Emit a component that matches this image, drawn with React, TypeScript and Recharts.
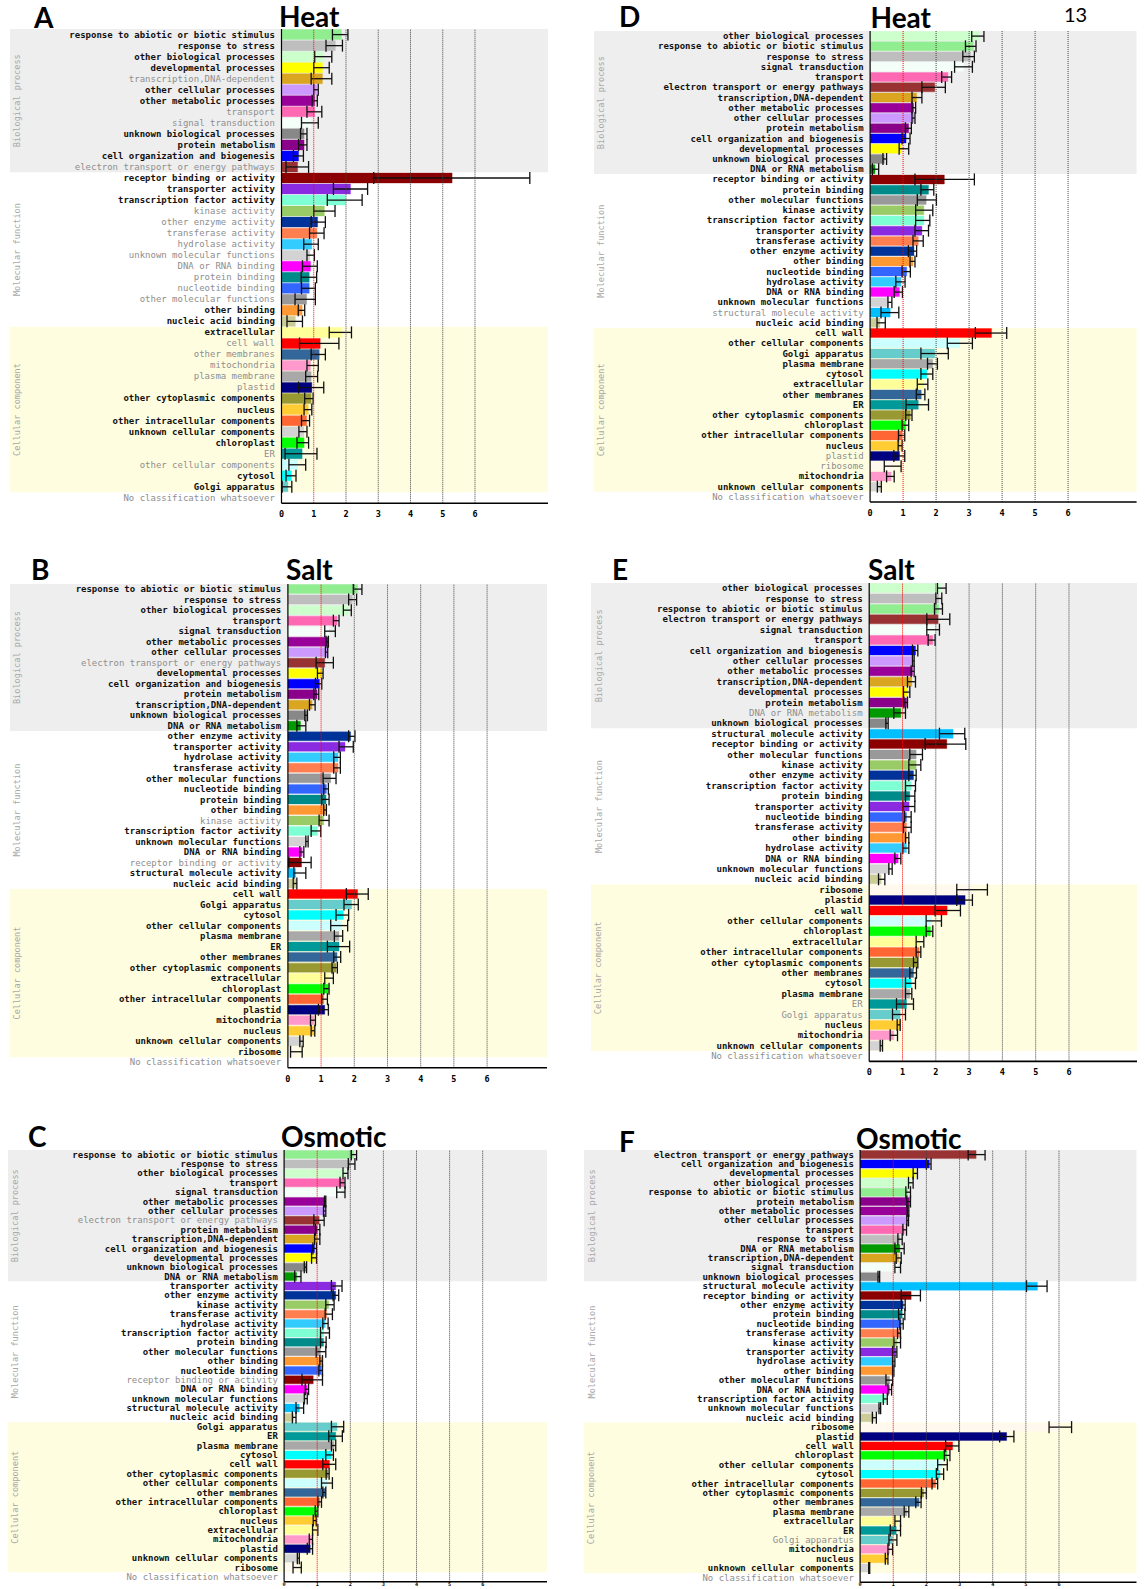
import React from 'react';
import { BarChart, Bar, XAxis, YAxis, Cell, ErrorBar, ReferenceArea, ReferenceLine } from 'recharts';

const NOCLASS = 'No classification whatsoever';
const SECTION_NAMES = ['Biological process', 'Molecular function', 'Cellular component'];
const X_TICKS = [0, 1, 2, 3, 4, 5, 6];

// ---------- Panel A : Heat ----------
const catsA = ['response to abiotic or biotic stimulus', 'response to stress', 'other biological processes', 'developmental processes', 'transcription,DNA-dependent', 'other cellular processes', 'other metabolic processes', 'transport', 'signal transduction', 'unknown biological processes', 'protein metabolism', 'cell organization and biogenesis', 'electron transport or energy pathways',
  'receptor binding or activity', 'transporter activity', 'transcription factor activity', 'kinase activity', 'other enzyme activity', 'transferase activity', 'hydrolase activity', 'unknown molecular functions', 'DNA or RNA binding', 'protein binding', 'nucleotide binding', 'other molecular functions', 'other binding', 'nucleic acid binding',
  'extracellular', 'cell wall', 'other membranes', 'mitochondria', 'plasma membrane', 'plastid', 'other cytoplasmic components', 'nucleus', 'other intracellular components', 'unknown cellular components', 'chloroplast', 'ER', 'other cellular components', 'cytosol', 'Golgi apparatus'];
const valsA = [1.86, 1.67, 1.31, 1.27, 1.27, 1.09, 1.03, 1.03, 0.92, 0.70, 0.70, 0.53, 0.50,
  5.29, 2.14, 1.98, 1.33, 1.12, 1.10, 0.94, 0.88, 0.90, 0.86, 0.86, 0.78, 0.64, 0.43,
  1.88, 1.20, 1.17, 0.90, 0.92, 0.94, 0.92, 0.83, 0.78, 0.70, 0.70, 0.64, 0.50, 0.31, 0.20];
const loA = [1.58, 1.38, 1.03, 1.00, 0.92, 1.00, 0.95, 0.79, 0.62, 0.59, 0.53, 0.37, 0.14,
  2.86, 1.61, 1.42, 1.00, 0.92, 0.87, 0.69, 0.79, 0.65, 0.61, 0.62, 0.42, 0.52, 0.17,
  1.48, 0.56, 0.92, 0.79, 0.75, 0.53, 0.72, 0.70, 0.62, 0.54, 0.48, 0.11, 0.23, 0.14, 0.02];
const hiA = [2.06, 1.89, 1.56, 1.48, 1.56, 1.14, 1.11, 1.25, 1.14, 0.79, 0.79, 0.68, 0.84,
  7.70, 2.67, 2.50, 1.66, 1.36, 1.32, 1.14, 1.02, 1.11, 1.09, 1.05, 1.05, 0.72, 0.65,
  2.17, 1.78, 1.36, 1.14, 1.12, 1.31, 0.98, 0.94, 0.87, 0.79, 0.84, 1.10, 0.75, 0.45, 0.32];
const grayA = ['transcription,DNA-dependent', 'transport', 'signal transduction', 'electron transport or energy pathways', 'kinase activity', 'other enzyme activity', 'transferase activity', 'hydrolase activity', 'unknown molecular functions', 'DNA or RNA binding', 'protein binding', 'nucleotide binding', 'other molecular functions', 'cell wall', 'other membranes', 'mitochondria', 'plasma membrane', 'plastid', 'ER', 'other cellular components'];
const secA = [13, 14, 15];

// ---------- Panel D : Heat ----------
const catsD = ['other biological processes', 'response to abiotic or biotic stimulus', 'response to stress', 'signal transduction', 'transport', 'electron transport or energy pathways', 'transcription,DNA-dependent', 'other metabolic processes', 'other cellular processes', 'protein metabolism', 'cell organization and biogenesis', 'developmental processes', 'unknown biological processes', 'DNA or RNA metabolism',
  'receptor binding or activity', 'protein binding', 'other molecular functions', 'kinase activity', 'transcription factor activity', 'transporter activity', 'transferase activity', 'other enzyme activity', 'other binding', 'nucleotide binding', 'hydrolase activity', 'DNA or RNA binding', 'unknown molecular functions', 'structural molecule activity', 'nucleic acid binding',
  'cell wall', 'other cellular components', 'Golgi apparatus', 'plasma membrane', 'cytosol', 'extracellular', 'other membranes', 'ER', 'other cytoplasmic components', 'chloroplast', 'other intracellular components', 'nucleus', 'plastid', 'ribosome', 'mitochondria', 'unknown cellular components'];
const valsD = [3.30, 3.13, 3.05, 2.83, 2.36, 1.96, 1.41, 1.32, 1.33, 1.17, 1.09, 0.95, 0.43, 0.15,
  2.25, 1.77, 1.70, 1.63, 1.63, 1.57, 1.46, 1.33, 1.30, 1.11, 0.94, 0.89, 0.57, 0.61, 0.30,
  3.68, 2.72, 1.96, 1.90, 1.72, 1.63, 1.55, 1.46, 1.22, 1.08, 0.97, 0.92, 0.89, 0.68, 0.64, 0.30];
const loD = [3.08, 2.89, 2.81, 2.56, 2.17, 1.57, 1.27, 1.27, 1.27, 1.07, 0.97, 0.88, 0.39, 0.07,
  1.36, 1.54, 1.43, 1.38, 1.38, 1.36, 1.30, 1.16, 1.21, 0.97, 0.78, 0.73, 0.54, 0.33, 0.21,
  3.19, 2.34, 1.54, 1.74, 1.54, 1.43, 1.40, 1.09, 1.08, 0.97, 0.86, 0.85, 0.72, 0.43, 0.50, 0.22];
const hiD = [3.45, 3.21, 3.16, 3.10, 2.47, 2.28, 1.57, 1.38, 1.36, 1.25, 1.21, 1.17, 0.50, 0.26,
  3.16, 1.93, 2.01, 1.90, 1.81, 1.77, 1.61, 1.41, 1.36, 1.22, 1.06, 0.98, 0.66, 0.87, 0.46,
  4.14, 3.10, 2.37, 2.04, 1.90, 1.75, 1.66, 1.77, 1.27, 1.17, 1.05, 0.97, 1.05, 0.94, 0.73, 0.34];
const grayD = ['structural molecule activity', 'plastid', 'ribosome'];
const secD = [14, 15, 16];

// ---------- Panel B : Salt ----------
const catsB = ['response to abiotic or biotic stimulus', 'response to stress', 'other biological processes', 'transport', 'signal transduction', 'other metabolic processes', 'other cellular processes', 'electron transport or energy pathways', 'developmental processes', 'cell organization and biogenesis', 'protein metabolism', 'transcription,DNA-dependent', 'unknown biological processes', 'DNA or RNA metabolism',
  'other enzyme activity', 'transporter activity', 'hydrolase activity', 'transferase activity', 'other molecular functions', 'nucleotide binding', 'protein binding', 'other binding', 'kinase activity', 'transcription factor activity', 'unknown molecular functions', 'DNA or RNA binding', 'receptor binding or activity', 'structural molecule activity', 'nucleic acid binding',
  'cell wall', 'Golgi apparatus', 'cytosol', 'other cellular components', 'plasma membrane', 'ER', 'other membranes', 'other cytoplasmic components', 'extracellular', 'chloroplast', 'other intracellular components', 'plastid', 'mitochondria', 'nucleus', 'unknown cellular components', 'ribosome'];
const valsB = [2.10, 1.94, 1.83, 1.48, 1.24, 1.21, 1.19, 1.11, 1.02, 0.95, 0.88, 0.73, 0.58, 0.38,
  1.89, 1.72, 1.51, 1.51, 1.29, 1.16, 1.15, 1.13, 1.08, 0.89, 0.59, 0.43, 0.41, 0.23, 0.25,
  2.10, 1.92, 1.67, 1.62, 1.54, 1.54, 1.48, 1.45, 1.22, 1.22, 1.08, 1.11, 0.79, 0.79, 0.42, 0.25];
const loB = [1.97, 1.83, 1.67, 1.37, 1.11, 1.15, 1.13, 0.85, 0.89, 0.83, 0.78, 0.65, 0.51, 0.27,
  1.83, 1.54, 1.38, 1.38, 1.06, 1.08, 1.02, 1.08, 0.94, 0.70, 0.54, 0.36, 0.03, 0.18, 0.16,
  1.76, 1.69, 1.45, 1.29, 1.40, 1.19, 1.38, 1.33, 1.11, 1.08, 1.02, 0.92, 0.68, 0.70, 0.36, 0.08];
const hiB = [2.23, 2.07, 1.91, 1.54, 1.43, 1.22, 1.20, 1.37, 1.06, 1.02, 0.93, 0.82, 0.59, 0.54,
  2.02, 1.97, 1.58, 1.58, 1.45, 1.22, 1.24, 1.16, 1.24, 0.99, 0.61, 0.48, 0.70, 0.54, 0.27,
  2.42, 2.12, 1.83, 1.80, 1.65, 1.86, 1.59, 1.49, 1.37, 1.24, 1.19, 1.22, 0.83, 0.81, 0.46, 0.43];
const grayB = ['electron transport or energy pathways', 'kinase activity', 'receptor binding or activity'];
const secB = [14, 15, 16];

// ---------- Panel E : Salt ----------
const catsE = ['other biological processes', 'response to stress', 'response to abiotic or biotic stimulus', 'electron transport or energy pathways', 'signal transduction', 'transport', 'cell organization and biogenesis', 'other cellular processes', 'other metabolic processes', 'transcription,DNA-dependent', 'developmental processes', 'protein metabolism', 'DNA or RNA metabolism', 'unknown biological processes',
  'structural molecule activity', 'receptor binding or activity', 'other molecular functions', 'kinase activity', 'other enzyme activity', 'transcription factor activity', 'protein binding', 'transporter activity', 'nucleotide binding', 'transferase activity', 'other binding', 'hydrolase activity', 'DNA or RNA binding', 'unknown molecular functions', 'nucleic acid binding',
  'ribosome', 'plastid', 'cell wall', 'other cellular components', 'chloroplast', 'extracellular', 'other intracellular components', 'other cytoplasmic components', 'other membranes', 'cytosol', 'plasma membrane', 'ER', 'Golgi apparatus', 'nucleus', 'mitochondria', 'unknown cellular components'];
const valsE = [2.17, 2.09, 2.09, 2.07, 1.98, 1.91, 1.39, 1.33, 1.30, 1.28, 1.15, 1.12, 0.95, 0.54,
  2.52, 2.33, 1.41, 1.41, 1.33, 1.26, 1.22, 1.20, 1.12, 1.12, 1.12, 1.12, 0.87, 0.61, 0.36,
  3.10, 2.88, 2.34, 1.87, 1.84, 1.52, 1.50, 1.44, 1.33, 1.26, 1.22, 1.12, 0.93, 0.92, 0.74, 0.38];
const loE = [2.05, 2.00, 1.96, 1.73, 1.73, 1.77, 1.30, 1.30, 1.26, 1.15, 1.03, 1.04, 0.74, 0.50,
  2.11, 1.68, 1.22, 1.19, 1.19, 1.09, 1.09, 1.01, 1.06, 1.03, 1.09, 1.01, 0.77, 0.59, 0.28,
  2.63, 2.63, 1.98, 1.71, 1.71, 1.41, 1.41, 1.33, 1.22, 1.09, 1.09, 0.82, 0.70, 0.84, 0.63, 0.33];
const hiE = [2.31, 2.18, 2.20, 2.42, 2.11, 1.98, 1.46, 1.35, 1.35, 1.39, 1.22, 1.15, 1.09, 0.57,
  2.87, 2.90, 1.60, 1.55, 1.41, 1.39, 1.37, 1.37, 1.26, 1.26, 1.19, 1.19, 0.95, 0.69, 0.47,
  3.55, 3.10, 2.74, 2.17, 1.91, 1.64, 1.55, 1.46, 1.42, 1.39, 1.28, 1.33, 1.09, 0.93, 0.85, 0.40];
const grayE = ['DNA or RNA metabolism', 'ER', 'Golgi apparatus'];
const secE = [14, 15, 16];

// ---------- Panel C : Osmotic ----------
const catsC = ['response to abiotic or biotic stimulus', 'response to stress', 'other biological processes', 'transport', 'signal transduction', 'other metabolic processes', 'other cellular processes', 'electron transport or energy pathways', 'protein metabolism', 'transcription,DNA-dependent', 'cell organization and biogenesis', 'developmental processes', 'unknown biological processes', 'DNA or RNA metabolism',
  'transporter activity', 'other enzyme activity', 'kinase activity', 'transferase activity', 'hydrolase activity', 'transcription factor activity', 'protein binding', 'other molecular functions', 'other binding', 'nucleotide binding', 'receptor binding or activity', 'DNA or RNA binding', 'unknown molecular functions', 'structural molecule activity', 'nucleic acid binding',
  'Golgi apparatus', 'ER', 'plasma membrane', 'cytosol', 'cell wall', 'other cytoplasmic components', 'other cellular components', 'other membranes', 'other intracellular components', 'chloroplast', 'nucleus', 'extracellular', 'mitochondria', 'plastid', 'unknown cellular components', 'ribosome'];
const valsC = [2.10, 2.00, 1.86, 1.81, 1.72, 1.25, 1.24, 1.06, 1.00, 1.00, 0.92, 0.92, 0.66, 0.38,
  1.56, 1.56, 1.35, 1.29, 1.24, 1.19, 1.19, 1.10, 1.15, 1.13, 0.88, 0.70, 0.66, 0.46, 0.30,
  1.60, 1.56, 1.51, 1.43, 1.37, 1.33, 1.30, 1.25, 1.08, 1.00, 0.95, 0.97, 0.83, 0.79, 0.43, 0.38];
const loC = [2.03, 1.94, 1.78, 1.69, 1.59, 1.22, 1.19, 0.90, 0.95, 0.92, 0.87, 0.83, 0.61, 0.32,
  1.43, 1.48, 1.26, 1.24, 1.17, 1.10, 1.10, 0.97, 1.08, 1.05, 0.54, 0.64, 0.61, 0.36, 0.25,
  1.43, 1.35, 1.43, 1.26, 1.17, 1.27, 1.13, 1.17, 1.02, 0.94, 0.88, 0.86, 0.76, 0.70, 0.40, 0.27];
const hiC = [2.19, 2.14, 1.93, 1.84, 1.84, 1.26, 1.26, 1.21, 1.08, 1.08, 0.98, 0.98, 0.68, 0.51,
  1.75, 1.65, 1.51, 1.46, 1.33, 1.37, 1.27, 1.26, 1.16, 1.16, 1.16, 0.74, 0.70, 0.59, 0.36,
  1.80, 1.76, 1.56, 1.49, 1.56, 1.36, 1.46, 1.26, 1.13, 1.02, 0.97, 1.02, 0.86, 0.86, 0.46, 0.52];
const grayC = ['electron transport or energy pathways', 'receptor binding or activity'];
const secC = [14, 15, 16];

// ---------- Panel F : Osmotic ----------
const catsF = ['electron transport or energy pathways', 'cell organization and biogenesis', 'developmental processes', 'other biological processes', 'response to abiotic or biotic stimulus', 'protein metabolism', 'other metabolic processes', 'other cellular processes', 'transport', 'response to stress', 'DNA or RNA metabolism', 'transcription,DNA-dependent', 'signal transduction', 'unknown biological processes',
  'structural molecule activity', 'receptor binding or activity', 'other enzyme activity', 'protein binding', 'nucleotide binding', 'transferase activity', 'kinase activity', 'transporter activity', 'hydrolase activity', 'other binding', 'other molecular functions', 'DNA or RNA binding', 'transcription factor activity', 'unknown molecular functions', 'nucleic acid binding',
  'ribosome', 'plastid', 'cell wall', 'chloroplast', 'other cellular components', 'cytosol', 'other intracellular components', 'other cytoplasmic components', 'other membranes', 'plasma membrane', 'extracellular', 'ER', 'Golgi apparatus', 'mitochondria', 'nucleus', 'unknown cellular components'];
const valsF = [3.50, 2.09, 1.65, 1.52, 1.44, 1.49, 1.45, 1.43, 1.33, 1.20, 1.20, 1.16, 1.13, 0.56,
  5.35, 1.54, 1.30, 1.27, 1.24, 1.20, 1.11, 1.08, 1.02, 1.00, 0.89, 0.89, 0.78, 0.60, 0.43,
  6.04, 4.42, 2.79, 2.61, 2.47, 2.41, 2.28, 1.92, 1.78, 1.41, 1.13, 1.09, 0.98, 0.89, 0.82, 0.28];
const loF = [3.26, 2.00, 1.60, 1.46, 1.38, 1.41, 1.42, 1.41, 1.29, 1.14, 1.05, 1.09, 1.05, 0.54,
  5.02, 1.24, 1.25, 1.16, 1.20, 1.13, 1.02, 0.98, 0.98, 0.98, 0.78, 0.84, 0.70, 0.57, 0.37,
  5.70, 4.21, 2.58, 2.54, 2.34, 2.30, 2.17, 1.85, 1.68, 1.33, 1.05, 0.91, 0.87, 0.84, 0.76, 0.26];
const hiF = [3.77, 2.14, 1.73, 1.60, 1.52, 1.52, 1.47, 1.46, 1.40, 1.27, 1.33, 1.24, 1.22, 0.59,
  5.64, 1.82, 1.36, 1.35, 1.30, 1.22, 1.22, 1.11, 1.05, 1.02, 0.98, 0.95, 0.82, 0.62, 0.49,
  6.38, 4.64, 2.98, 2.71, 2.63, 2.52, 2.34, 2.00, 1.84, 1.47, 1.22, 1.22, 1.11, 0.98, 0.84, 0.29];
const grayF = ['Golgi apparatus'];
const secF = [14, 15, 16];

// ---------- category colours ----------
const COLORS: Record<string, string> = {
  'response to abiotic or biotic stimulus': '#90ee90',
  'response to stress': '#bebebe',
  'other biological processes': '#ccffcc',
  'developmental processes': '#ffff00',
  'transcription,DNA-dependent': '#daa520',
  'other cellular processes': '#cc99ff',
  'other metabolic processes': '#990099',
  'transport': '#ff69b4',
  'signal transduction': '#f5fffa',
  'unknown biological processes': '#888888',
  'protein metabolism': '#8b008b',
  'cell organization and biogenesis': '#0000ff',
  'electron transport or energy pathways': '#993333',
  'DNA or RNA metabolism': '#009900',
  'receptor binding or activity': '#8b0000',
  'transporter activity': '#8a2be2',
  'transcription factor activity': '#7fffd4',
  'kinase activity': '#99cc66',
  'other enzyme activity': '#003399',
  'transferase activity': '#ff7f50',
  'hydrolase activity': '#33ccff',
  'unknown molecular functions': '#d3d3d3',
  'DNA or RNA binding': '#ff00ff',
  'protein binding': '#008b8b',
  'nucleotide binding': '#3366ff',
  'other molecular functions': '#999999',
  'other binding': '#ff9933',
  'nucleic acid binding': '#cccc99',
  'structural molecule activity': '#00bfff',
  'extracellular': '#ffff99',
  'cell wall': '#ff0000',
  'other membranes': '#336699',
  'mitochondria': '#ff99cc',
  'plasma membrane': '#a9a9a9',
  'plastid': '#000080',
  'other cytoplasmic components': '#999933',
  'nucleus': '#ffcc33',
  'other intracellular components': '#ff6633',
  'unknown cellular components': '#d3d3d3',
  'chloroplast': '#00ff00',
  'ER': '#009999',
  'other cellular components': '#ccffff',
  'cytosol': '#00ffff',
  'Golgi apparatus': '#66cccc',
  'ribosome': '#fff8ee',
};

const SECTION_FILLS = ['#eeeeee', '#ffffff', '#fffde0'];
const MONO = "'DejaVu Sans Mono', monospace";
const TITLE_FONT = "Lato, 'Liberation Sans', sans-serif";

type Cfg = {
  letter: string; title: string;
  left: number; top: number; plotLeft: number; ppu: number; right: number; rowH: number; labelRight: number;
  letterX: number; letterY: number; titleX: number; titleY: number;
  xFont: number; xTickSize: number; xTickMargin: number;
};

const SectionLabel = (props: any) => {
  const { viewBox, text } = props;
  if (!viewBox) return null;
  const cx = viewBox.x + 7.5;
  const cy = viewBox.y + viewBox.height / 2;
  return (
    <text x={cx} y={cy} transform={`rotate(-90 ${cx} ${cy})`} textAnchor="middle" dominantBaseline="central"
      fontSize={8.6} fill="#a8a8a8" fontFamily={MONO}>{text}</text>
  );
};

function Panel({ cfg, cats, vals, lo, hi, gray, sections }:
  { cfg: Cfg; cats: string[]; vals: number[]; lo: number[]; hi: number[]; gray: string[]; sections: number[] }) {
  const rows = cats.map((name, i) => ({
    name,
    value: vals[i],
    err: [Math.max(0, vals[i] - lo[i]), Math.max(0, hi[i] - vals[i])],
  }));
  rows.push({ name: NOCLASS, value: 0, err: [0, 0] });
  const graySet = new Set(gray);
  const xAxisH = 16;
  const width = cfg.right - cfg.left;
  const height = rows.length * cfg.rowH + xAxisH;
  const yW = cfg.plotLeft - cfg.left;
  const dmax = (cfg.right - cfg.plotLeft) / cfg.ppu;
  const xStart = -yW / cfg.ppu;
  let s = 0;
  const areas = sections.map((cnt, i) => {
    const a = { y1: cats[s], y2: cats[s + cnt - 1], fill: SECTION_FILLS[i], text: SECTION_NAMES[i] };
    s += cnt;
    return a;
  });

  const Tick = (props: any) => {
    const { x, y, payload } = props;
    const name = payload.value as string;
    const g = graySet.has(name) || name === NOCLASS;
    return (
      <text x={x} y={y} textAnchor="end" dominantBaseline="central" fontSize={9} fontFamily={MONO}
        fontWeight={g ? 'normal' : 'bold'} fill={g ? '#8e8e8e' : '#111111'}>{name}</text>
    );
  };

  return (
    <div style={{ position: 'absolute', left: cfg.left, top: cfg.top }}>
      <BarChart width={width} height={height} data={rows} layout="vertical"
        margin={{ top: 0, right: 0, bottom: 0, left: 0 }} barCategoryGap={0.6}>
        {areas.map((a) => (
          <ReferenceArea key={a.text} y1={a.y1} y2={a.y2} x1={xStart} x2={dmax} fill={a.fill} fillOpacity={1}
            stroke="none" ifOverflow="visible" label={<SectionLabel text={a.text} />} />
        ))}
        <XAxis type="number" domain={[0, dmax]} ticks={X_TICKS} allowDataOverflow height={xAxisH}
          axisLine={{ stroke: '#000', strokeWidth: 1.6 }} tickLine={false} tickSize={cfg.xTickSize} tickMargin={cfg.xTickMargin}
          tick={{ fontSize: cfg.xFont, fontFamily: MONO, fill: '#000', fontWeight: 'bold' }} />
        <YAxis type="category" dataKey="name" width={yW} interval={0} tickLine={false} tickSize={0}
          tickMargin={cfg.plotLeft - cfg.labelRight} axisLine={{ stroke: '#000', strokeWidth: 1.2 }} tick={Tick} />
        <Bar dataKey="value" isAnimationActive={false}>
          {rows.map((r) => (
            <Cell key={r.name} fill={COLORS[r.name] || '#000'} stroke={COLORS[r.name] || '#000'} strokeOpacity={0.35} strokeWidth={1} />
          ))}
          <ErrorBar dataKey="err" direction="x" width={6} stroke="#111" strokeWidth={1.3} isAnimationActive={false} />
        </Bar>
        {[2, 3, 4, 5, 6].map((v) => (
          <ReferenceLine key={v} x={v} stroke="#444" strokeDasharray="1 1" strokeWidth={1} />
        ))}
        <ReferenceLine x={1} stroke="#ff0000" strokeDasharray="1 1" strokeWidth={1} />
      </BarChart>
    </div>
  );
}

const CFG_A: Cfg = { letter: 'A', title: 'Heat', left: 9.6, top: 29.0, plotLeft: 281.1, ppu: 32.25, right: 548.2, rowH: 11.03, labelRight: 274.5, letterX: 34, letterY: 28, titleX: 279, titleY: 27, xFont: 8.5, xTickSize: 6, xTickMargin: 2 };
const CFG_D: Cfg = { letter: 'D', title: 'Heat', left: 594.4, top: 30.7, plotLeft: 870.5, ppu: 33.0, right: 1137, rowH: 10.24, labelRight: 864, letterX: 619, letterY: 27, titleX: 870.5, titleY: 28, xFont: 8.5, xTickSize: 6, xTickMargin: 2 };
const CFG_B: Cfg = { letter: 'B', title: 'Salt', left: 9.6, top: 584, plotLeft: 287.5, ppu: 33.2, right: 547.5, rowH: 10.515, labelRight: 280.8, letterX: 31, letterY: 580, titleX: 286, titleY: 580, xFont: 8.5, xTickSize: 6, xTickMargin: 2 };
const CFG_E: Cfg = { letter: 'E', title: 'Salt', left: 590.8, top: 583.3, plotLeft: 869, ppu: 33.3, right: 1136.8, rowH: 10.4, labelRight: 862.4, letterX: 612, letterY: 580, titleX: 868, titleY: 580, xFont: 8.5, xTickSize: 6, xTickMargin: 2 };
const CFG_C: Cfg = { letter: 'C', title: 'Osmotic', left: 7.9, top: 1150, plotLeft: 284, ppu: 33.1, right: 547.5, rowH: 9.385, labelRight: 277.8, letterX: 28, letterY: 1147, titleX: 281, titleY: 1147, xFont: 5.2, xTickSize: 0, xTickMargin: 0.5 };
const CFG_F: Cfg = { letter: 'F', title: 'Osmotic', left: 584.3, top: 1150, plotLeft: 860.4, ppu: 33.15, right: 1136.8, rowH: 9.398, labelRight: 854.2, letterX: 619, letterY: 1152, titleX: 856, titleY: 1149, xFont: 5.2, xTickSize: 0, xTickMargin: 0.5 };

const PANELS = [
  { cfg: CFG_A, cats: catsA, vals: valsA, lo: loA, hi: hiA, gray: grayA, sections: secA },
  { cfg: CFG_D, cats: catsD, vals: valsD, lo: loD, hi: hiD, gray: grayD, sections: secD },
  { cfg: CFG_B, cats: catsB, vals: valsB, lo: loB, hi: hiB, gray: grayB, sections: secB },
  { cfg: CFG_E, cats: catsE, vals: valsE, lo: loE, hi: hiE, gray: grayE, sections: secE },
  { cfg: CFG_C, cats: catsC, vals: valsC, lo: loC, hi: hiC, gray: grayC, sections: secC },
  { cfg: CFG_F, cats: catsF, vals: valsF, lo: loF, hi: hiF, gray: grayF, sections: secF },
];

export default function App() {
  return (
    <div style={{ position: 'absolute', left: 0, top: 0, width: 1145, height: 1589, background: '#fff', overflow: 'hidden' }}>
      {PANELS.map((p) => (
        <Panel key={p.cfg.letter} {...p} />
      ))}
      <svg width={1145} height={1589} style={{ position: 'absolute', left: 0, top: 0, pointerEvents: 'none' }}>
        {PANELS.map((p) => (
          <g key={p.cfg.letter}>
            <text x={p.cfg.letterX} y={p.cfg.letterY} fontFamily={TITLE_FONT} fontWeight="bold" fontSize={28} fill="#000">{p.cfg.letter}</text>
            <text x={p.cfg.titleX} y={p.cfg.titleY} fontFamily={TITLE_FONT} fontWeight="bold" fontSize={28} fill="#000">{p.cfg.title}</text>
          </g>
        ))}
        <text x={1064} y={22} fontFamily={TITLE_FONT} fontSize={20} fill="#000">13</text>
      </svg>
    </div>
  );
}
